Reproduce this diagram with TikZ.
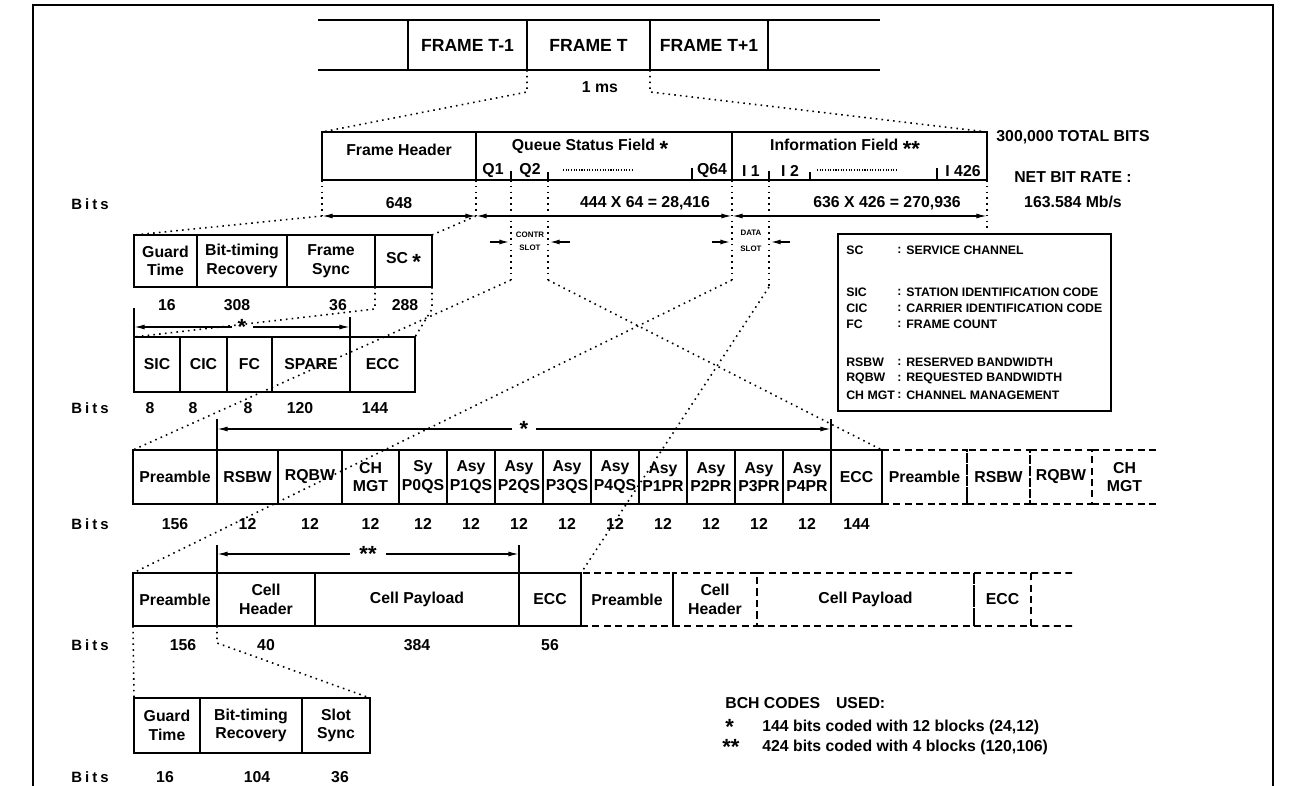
\documentclass[tikz,border=0pt]{standalone}
\usepackage{fontspec}
\setmainfont{Liberation Sans}
\newfontfamily\bitsfont[LetterSpace=20]{Liberation Sans}
\usepackage{tikz}
\usetikzlibrary{positioning,arrows.meta}

\newcommand{\px}{0.02cm}
\newcommand{\stark}{\raisebox{-3.6pt}{\fontsize{12.5}{12}\selectfont *}}

\begin{document}
\begin{tikzpicture}[x=0.02cm, y=-0.02cm, >={Latex[length=6pt,width=2.8pt]}]
  \tikzset{
    cell/.style={draw, line width=1.1pt, outer sep=0pt, inner sep=0pt,
                 align=center, font=\bfseries\fontsize{9}{10.5}\selectfont},
    dcell/.style={cell, dash pattern=on 4pt off 2.5pt},
    dline/.style={line width=1.1pt, dash pattern=on 4pt off 2.5pt},
    guide/.style={line width=0.9pt, dash pattern=on 0.9pt off 2.4pt},
    fdots/.style={line width=0.6pt, dash pattern=on 0.6pt off 0.9pt},
    lbl/.style={font=\bfseries\fontsize{9}{10.5}\selectfont, inner sep=0pt},
    bits/.style={font=\bitsfont\bfseries\fontsize{8.5}{10}\selectfont, inner sep=0pt},
    slot/.style={font=\bfseries\fontsize{4.5}{5}\selectfont, inner sep=0pt},
    legend/.style={font=\bfseries\fontsize{7}{8}\selectfont, inner sep=0pt, anchor=west},
    dim/.style={<->, line width=0.8pt},
    tick/.style={line width=0.8pt},
    big/.style={font=\bfseries\fontsize{10}{12}\selectfont}
  }
  \useasboundingbox (0,0) rectangle (1293,786);
  % page frame
  \draw[line width=0.8pt] (33,786) -- (33,5) -- (1273,5) -- (1273,786);

  % frames
  \draw[line width=1.1pt] (318,20) -- (880,20) (318,70) -- (880,70);
  \node[cell, big, minimum width=119*\px, minimum height=50*\px, anchor=north west]
    (ftm) at (408,20) {FRAME T-1};
  \node[cell, big, minimum width=123*\px, minimum height=50*\px, right=0pt of ftm] (ft) {FRAME T};
  \node[cell, big, minimum width=118*\px, minimum height=50*\px, right=0pt of ft] (ftp) {FRAME T+1};
  \node[lbl] (ms) at (600,87) {1 ms};

  % frame header / queue status / information
  \node[cell, line width=1.3pt, minimum width=154*\px, minimum height=48*\px, anchor=north west]
    (fh) at (322,132) {};
  \node[cell, line width=1.3pt, minimum width=256*\px, minimum height=48*\px, right=0pt of fh] (qs) {};
  \node[cell, line width=1.3pt, minimum width=255*\px, minimum height=48*\px, right=0pt of qs] (inf) {};
  \draw[guide] (ft.south west) -- ++(0,22) -- (fh.north west);
  \draw[guide] (ft.south east) -- ++(0,22) -- (inf.north east);

  \node[lbl] at (399,150) {Frame Header};
  \node[lbl] at (590,148) {Queue Status Field \stark};
  \node[lbl] at (845,148) {Information Field \stark\stark};
  \node[lbl] at (493,171) {Q1};
  \node[lbl] at (530,171) {Q2};
  \node[lbl] at (712,171) {Q64};
  \node[lbl] at (751,171) {I 1};
  \node[lbl] at (790,171) {I 2};
  \node[lbl] at (963,171) {I 426};
  \draw[fdots] (563,170) -- (633,170);
  \draw[fdots] (817,170) -- (897,170);
  \coordinate (q1) at (511,180);
  \coordinate (q2) at (548,180);
  \coordinate (i1) at (769,180);
  \draw[tick] (q1) -- ++(0,-9) (q2) -- ++(0,-8) (692,180) -- (692,168);
  \draw[tick] (i1) -- ++(0,-9) (810,180) -- (810,172) (937,180) -- (937,168);

  \node[lbl] at (1073,137) {300,000 TOTAL BITS};
  \node[lbl] at (1073,177) {NET BIT RATE :};
  \node[lbl] at (1073,202) {163.584 Mb/s};

  % bit counts of the frame
  \coordinate (d0) at (322,216);
  \coordinate (d1) at (476,216);
  \coordinate (d2) at (732,216);
  \coordinate (d3) at (987,216);
  \draw[guide] (fh.south west) -- (d0) (qs.south west) -- (d1);
  \draw[dim] (d0) -- (d1);
  \draw[dim] (d1) -- (d2);
  \draw[dim] (d2) -- (d3);
  \draw[guide] (inf.south east) -- ++(0,48);
  \node[bits] at (90,204) {Bits};
  \node[lbl] at (399,203) {648};
  \node[lbl] at (645,203) {444 X 64 = 28,416};
  \node[lbl] at (887,203) {636 X 426 = 270,936};

  % control and data slots
  \coordinate (cl) at (511,280);
  \coordinate (cr) at (548,280);
  \coordinate (dl) at (732,280);
  \coordinate (dr) at (769,287);
  \draw[guide] (q1) -- (cl) (q2) -- (cr) (inf.south west) -- (dl) (i1) -- (dr);
  \node[slot] at (530,235) {CONTR};
  \node[slot] at (530,248) {SLOT};
  \node[slot] at (751,233) {DATA};
  \node[slot] at (751,249) {SLOT};
  \draw[->, line width=1pt] (490,242) -- (510,242);
  \draw[->, line width=1pt] (570,242) -- (549,242);
  \draw[->, line width=1pt] (712,242) -- (731,242);
  \draw[->, line width=1pt] (790,242) -- (770,242);

  % frame header detail
  \node[cell, minimum width=63*\px, minimum height=52*\px, anchor=north west]
    (gt) at (134,235) {Guard\\Time};
  \node[cell, minimum width=90*\px, minimum height=52*\px, right=0pt of gt] (btr) {Bit-timing\\Recovery};
  \node[cell, minimum width=88*\px, minimum height=52*\px, right=0pt of btr] (fsy) {Frame\\Sync};
  \node[cell, minimum width=57*\px, minimum height=52*\px, right=0pt of fsy] (sc) {SC \stark};
  \draw[guide] (d0) -- (gt.north west);
  \draw[guide] (d1) -- (sc.north east);
  \node[lbl] at (167,305) {16};
  \node[lbl] at (237,305) {308};
  \node[lbl] at (338,305) {36};
  \node[lbl] at (405,305) {288};

  % service channel detail
  \node[cell, minimum width=46*\px, minimum height=55*\px, anchor=north west]
    (sic) at (134,337) {SIC};
  \node[cell, minimum width=47*\px, minimum height=55*\px, right=0pt of sic] (cic) {CIC};
  \node[cell, minimum width=45*\px, minimum height=55*\px, right=0pt of cic] (fc) {FC};
  \node[cell, minimum width=78*\px, minimum height=55*\px, right=0pt of fc] (spare) {SPARE};
  \node[cell, minimum width=65*\px, minimum height=55*\px, right=0pt of spare] (ecca) {ECC};
  \draw[guide] (sc.south west) -- ++(0,22) -- (sic.north west);
  \draw[guide] (sc.south east) -- ++(0,22) -- (ecca.north east);
  \coordinate (sa) at (134,327);
  \coordinate (sb) at (350,327);
  \draw[tick] (sic.north west) -- ++(0,-29);
  \draw[tick] (spare.north east) -- ++(0,-20);
  \draw[->, line width=0.8pt] (232,327) -- (sa);
  \draw[->, line width=0.8pt] (253,327) -- (sb);
  \node[lbl] at (242,327) {\stark};
  \node[bits] at (90,408) {Bits};
  \node[lbl] at (150,408) {8};
  \node[lbl] at (193,408) {8};
  \node[lbl] at (248,408) {8};
  \node[lbl] at (300,408) {120};
  \node[lbl] at (375,408) {144};

  % control slot detail
  \node[cell, minimum width=84*\px, minimum height=54*\px, anchor=north west]
    (preb) at (133,450) {Preamble};
  \node[cell, minimum width=61*\px, minimum height=54*\px, right=0pt of preb] (rsbw) {RSBW};
  \node[cell, minimum width=64*\px, minimum height=54*\px, right=0pt of rsbw] (rqbw) {RQBW};
  \node[cell, minimum width=57*\px, minimum height=54*\px, right=0pt of rqbw] (chm) {CH\\MGT};
  \foreach \n/\t [remember=\n as \p (initially chm)] in
    {pq0/{Sy\\P0QS}, pq1/{Asy\\P1QS}, pq2/{Asy\\P2QS}, pq3/{Asy\\P3QS}, pq4/{Asy\\P4QS},
     pr1/{Asy\\P1PR}, pr2/{Asy\\P2PR}, pr3/{Asy\\P3PR}, pr4/{Asy\\P4PR}}
    \node[cell, minimum width=48*\px, minimum height=54*\px, right=0pt of \p] (\n) {\t};
  \node[cell, minimum width=51*\px, minimum height=54*\px, right=0pt of pr4] (eccb) {ECC};
  \node[dcell, minimum width=85*\px, minimum height=54*\px, right=0pt of eccb] (npreb) {Preamble};
  \node[dcell, minimum width=63*\px, minimum height=54*\px, right=0pt of npreb] (nrsbw) {RSBW};
  \node[dcell, minimum width=62*\px, minimum height=54*\px, right=0pt of nrsbw] (nrqbw) {RQBW};
  \node[cell, draw=none, minimum width=65*\px, minimum height=54*\px, right=0pt of nrqbw] (nchm) {CH\\MGT};
  \draw[dline] (nchm.north west) -- (nchm.north east) (nchm.south west) -- (nchm.south east);
  \draw[guide] (cl) -- (preb.north west);
  \draw[guide] (cr) -- (eccb.north east);
  \coordinate (ca) at (217,429);
  \coordinate (cb) at (831,429);
  \draw[tick] (rsbw.north west) -- ++(0,-31);
  \draw[tick] (eccb.north west) -- ++(0,-31);
  \draw[->, line width=0.8pt] (512,429) -- (ca);
  \draw[->, line width=0.8pt] (536,429) -- (cb);
  \node[lbl] at (524,429) {\stark};
  \node[bits] at (90,524) {Bits};
  \node[lbl] at (preb |- 0,524) {156};
  \foreach \c in {rsbw,rqbw,chm,pq0,pq1,pq2,pq3,pq4,pr1,pr2,pr3,pr4}
    \node[lbl] at (\c |- 0,524) {12};
  \node[lbl] at (eccb |- 0,524) {144};

  % data slot detail
  \node[cell, minimum width=84*\px, minimum height=53*\px, anchor=north west]
    (prec) at (133,573) {Preamble};
  \node[cell, minimum width=98*\px, minimum height=53*\px, right=0pt of prec] (chd) {Cell\\Header};
  \node[cell, minimum width=204*\px, minimum height=53*\px, right=0pt of chd] (cpl) {Cell Payload};
  \node[cell, minimum width=62*\px, minimum height=53*\px, right=0pt of cpl] (eccc) {ECC};
  \node[dcell, minimum width=92*\px, minimum height=53*\px, right=0pt of eccc] (nprec) {Preamble};
  \node[dcell, minimum width=84*\px, minimum height=53*\px, right=0pt of nprec] (nchd) {Cell\\Header};
  \node[dcell, minimum width=217*\px, minimum height=53*\px, right=0pt of nchd] (ncpl) {Cell Payload};
  \node[dcell, minimum width=57*\px, minimum height=53*\px, right=0pt of ncpl] (neccc) {ECC};
  \coordinate (ctail) at (1072,573);
  \coordinate (cbot) at (1072,626);
  \draw[dline] (neccc.north east) -- (ctail) (neccc.south east) -- (cbot);
  \draw[guide] (dl) -- (prec.north west);
  \draw[guide] (dr) -- (eccc.north east);
  \coordinate (ea) at (217,554);
  \coordinate (eb) at (519,554);
  \draw[tick] (chd.north west) -- ++(0,-28);
  \draw[tick] (eccc.north west) -- ++(0,-28);
  \draw[->, line width=0.8pt] (350,554) -- (ea);
  \draw[->, line width=0.8pt] (386,554) -- (eb);
  \node[lbl] at (368,554) {\stark\stark};
  \node[bits] at (90,645) {Bits};
  \node[lbl] at (183,645) {156};
  \node[lbl] at (chd |- 0,645) {40};
  \node[lbl] at (cpl |- 0,645) {384};
  \node[lbl] at (eccc |- 0,645) {56};

  % preamble detail
  \node[cell, minimum width=66*\px, minimum height=55*\px, anchor=north west]
    (gtc) at (134,698) {Guard\\Time};
  \node[cell, minimum width=102*\px, minimum height=55*\px, right=0pt of gtc] (btrc) {Bit-timing\\Recovery};
  \node[cell, minimum width=68*\px, minimum height=55*\px, right=0pt of btrc] (ssy) {Slot\\Sync};
  \draw[guide] (prec.south west) -- (gtc.north west);
  \draw[guide] (prec.south east) -- ++(0,17) -- (ssy.north east);
  \node[bits] at (90,777) {Bits};
  \node[lbl] at (165,777) {16};
  \node[lbl] at (257,777) {104};
  \node[lbl] at (340,777) {36};

  % legend
  \node[draw, line width=1.1pt, minimum width=273*\px, minimum height=177*\px,
        anchor=north west, inner sep=0pt] (leg) at (837,233) {};
  \foreach \y/\a/\t in {250/SC/SERVICE CHANNEL, 292/SIC/STATION IDENTIFICATION CODE,
      308/CIC/CARRIER IDENTIFICATION CODE, 324/FC/FRAME COUNT,
      362/RSBW/RESERVED BANDWIDTH, 378/RQBW/REQUESTED BANDWIDTH,
      395/CH MGT/CHANNEL MANAGEMENT} {
    \node[legend] at (846,\y) {\a};
    \node[legend] at (897,\y) {:};
    \node[legend] at (906,\y) {\t};
  }

  % codes
  \node[lbl, anchor=west] at (725,703) {BCH CODES\quad USED:};
  \node[lbl, anchor=west] at (725,727) {\stark};
  \node[lbl, anchor=west] at (762,727) {144 bits coded with 12 blocks (24,12)};
  \node[lbl, anchor=west] at (722,747) {\stark\stark};
  \node[lbl, anchor=west] at (762,747) {424 bits coded with 4 blocks (120,106)};
\end{tikzpicture}
\end{document}
